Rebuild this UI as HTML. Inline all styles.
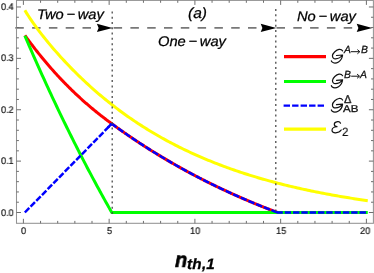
<!DOCTYPE html>
<html><head><meta charset="utf-8"><title>chart</title><style>
html,body{margin:0;padding:0;background:#fff;}
body{width:374px;height:273px;position:relative;overflow:hidden;font-family:"Liberation Sans",sans-serif;}
.t{position:absolute;white-space:nowrap;line-height:1;color:#000;text-rendering:geometricPrecision;will-change:transform;}
.tk{font-size:9.7px;color:#111;-webkit-text-stroke:0.2px #111;transform:scaleX(0.94);transform-origin:0 0;}
.it{font-style:italic;font-size:14px;-webkit-text-stroke:0.25px #000;transform:scaleX(1.05);transform-origin:0 0;word-spacing:-1.3px;}
</style></head><body>
<svg width="374" height="273" viewBox="0 0 374 273" style="position:absolute;left:0;top:0">
<rect width="374" height="273" fill="#fff"/>
<g stroke="#787878" stroke-width="1.9" fill="none" stroke-dasharray="8.5 8.3">
<line x1="15.3" y1="27.9" x2="112.2" y2="27.9"/>
<line x1="113.6" y1="27.9" x2="276.0" y2="27.9"/>
<line x1="276.5" y1="27.9" x2="373.4" y2="27.9"/>
</g>
<g fill="none" stroke-linejoin="round" stroke-linecap="butt">
<path d="M24.86,10.32 L26.57,13.10 L28.29,15.78 L30.00,18.38 L31.72,20.90 L33.43,23.35 L35.15,25.74 L36.86,28.08 L38.57,30.38 L40.29,32.63 L42.00,34.84 L43.72,37.01 L45.43,39.15 L47.15,41.26 L48.86,43.34 L50.58,45.39 L52.29,47.41 L54.01,49.41 L55.72,51.38 L57.43,53.33 L59.15,55.25 L60.86,57.15 L62.58,59.03 L64.29,60.88 L66.01,62.72 L67.72,64.53 L69.44,66.32 L71.15,68.09 L72.87,69.83 L74.58,71.56 L76.29,73.27 L78.01,74.96 L79.72,76.63 L81.44,78.28 L83.15,79.91 L84.87,81.53 L86.58,83.12 L88.30,84.70 L90.01,86.26 L91.73,87.80 L93.44,89.32 L95.16,90.83 L96.87,92.32 L98.58,93.79 L100.30,95.25 L102.01,96.69 L103.73,98.11 L105.44,99.52 L107.16,100.91 L108.87,102.28 L110.59,103.64 L112.30,104.99 L114.02,106.31 L115.73,107.63 L117.44,108.93 L119.16,110.21 L120.87,111.48 L122.59,112.74 L124.30,113.98 L126.02,115.20 L127.73,116.42 L129.45,117.61 L131.16,118.80 L132.88,119.97 L134.59,121.13 L136.30,122.28 L138.02,123.41 L139.73,124.53 L141.45,125.63 L143.16,126.73 L144.88,127.81 L146.59,128.88 L148.31,129.94 L150.02,130.98 L151.74,132.02 L153.45,133.04 L155.17,134.05 L156.88,135.05 L158.59,136.04 L160.31,137.01 L162.02,137.98 L163.74,138.93 L165.45,139.88 L167.17,140.81 L168.88,141.73 L170.60,142.64 L172.31,143.54 L174.03,144.43 L175.74,145.32 L177.45,146.19 L179.17,147.05 L180.88,147.90 L182.60,148.74 L184.31,149.57 L186.03,150.40 L187.74,151.21 L189.46,152.01 L191.17,152.81 L192.89,153.59 L194.60,154.37 L196.31,155.14 L198.03,155.90 L199.74,156.65 L201.46,157.39 L203.17,158.13 L204.89,158.85 L206.60,159.57 L208.32,160.28 L210.03,160.98 L211.75,161.67 L213.46,162.36 L215.18,163.04 L216.89,163.71 L218.60,164.37 L220.32,165.02 L222.03,165.67 L223.75,166.31 L225.46,166.94 L227.18,167.57 L228.89,168.19 L230.61,168.80 L232.32,169.40 L234.04,170.00 L235.75,170.59 L237.46,171.18 L239.18,171.75 L240.89,172.33 L242.61,172.89 L244.32,173.45 L246.04,174.00 L247.75,174.55 L249.47,175.09 L251.18,175.62 L252.90,176.15 L254.61,176.67 L256.32,177.18 L258.04,177.69 L259.75,178.20 L261.47,178.69 L263.18,179.19 L264.90,179.67 L266.61,180.15 L268.33,180.63 L270.04,181.10 L271.76,181.56 L273.47,182.02 L275.19,182.48 L276.90,182.93 L278.61,183.37 L280.33,183.81 L282.04,184.25 L283.76,184.68 L285.47,185.10 L287.19,185.52 L288.90,185.93 L290.62,186.34 L292.33,186.75 L294.05,187.15 L295.76,187.55 L297.47,187.94 L299.19,188.33 L300.90,188.71 L302.62,189.09 L304.33,189.46 L306.05,189.83 L307.76,190.20 L309.48,190.56 L311.19,190.92 L312.91,191.27 L314.62,191.62 L316.33,191.97 L318.05,192.31 L319.76,192.65 L321.48,192.98 L323.19,193.31 L324.91,193.64 L326.62,193.96 L328.34,194.28 L330.05,194.59 L331.77,194.91 L333.48,195.21 L335.20,195.52 L336.91,195.82 L338.62,196.12 L340.34,196.41 L342.05,196.70 L343.77,196.99 L345.48,197.28 L347.20,197.56 L348.91,197.84 L350.63,198.11 L352.34,198.38 L354.06,198.65 L355.77,198.92 L357.48,199.18 L359.20,199.44 L360.91,199.70 L362.63,199.95 L364.34,200.20 L366.06,200.45 L367.77,200.70" stroke="#ffff00" stroke-width="3.0"/>
<path d="M24.86,35.34 L25.70,36.50 L26.54,37.66 L27.38,38.81 L28.23,39.95 L29.07,41.08 L29.91,42.21 L30.75,43.33 L31.59,44.44 L32.44,45.54 L33.28,46.64 L34.12,47.73 L34.96,48.82 L35.80,49.90 L36.65,50.97 L37.49,52.03 L38.33,53.09 L39.17,54.14 L40.01,55.18 L40.86,56.22 L41.70,57.25 L42.54,58.28 L43.38,59.30 L44.23,60.31 L45.07,61.31 L45.91,62.31 L46.75,63.30 L47.59,64.29 L48.44,65.27 L49.28,66.24 L50.12,67.21 L50.96,68.17 L51.80,69.13 L52.65,70.08 L53.49,71.02 L54.33,71.96 L55.17,72.89 L56.01,73.81 L56.86,74.73 L57.70,75.65 L58.54,76.55 L59.38,77.46 L60.22,78.35 L61.07,79.24 L61.91,80.13 L62.75,81.01 L63.59,81.88 L64.43,82.75 L65.28,83.61 L66.12,84.47 L66.96,85.32 L67.80,86.17 L68.65,87.01 L69.49,87.85 L70.33,88.68 L71.17,89.50 L72.01,90.32 L72.86,91.14 L73.70,91.95 L74.54,92.75 L75.38,93.55 L76.22,94.35 L77.07,95.14 L77.91,95.92 L78.75,96.70 L79.59,97.47 L80.43,98.24 L81.28,99.01 L82.12,99.77 L82.96,100.52 L83.80,101.27 L84.64,102.02 L85.49,102.76 L86.33,103.50 L87.17,104.23 L88.01,104.96 L88.85,105.68 L89.70,106.40 L90.54,107.11 L91.38,107.82 L92.22,108.52 L93.07,109.22 L93.91,109.92 L94.75,110.61 L95.59,111.29 L96.43,111.98 L97.28,112.65 L98.12,113.33 L98.96,114.00 L99.80,114.66 L100.64,115.32 L101.49,115.98 L102.33,116.63 L103.17,117.28 L104.01,117.92 L104.85,118.56 L105.70,119.20 L106.54,119.83 L107.38,120.46 L108.22,121.09 L109.06,121.71 L109.91,122.32 L110.75,122.93 L111.59,123.54 L112.43,124.21 L113.27,124.83 L114.12,125.44 L114.96,126.05 L115.80,126.66 L116.64,127.26 L117.48,127.87 L118.33,128.47 L119.17,129.07 L120.01,129.67 L120.85,130.27 L121.70,130.86 L122.54,131.45 L123.38,132.04 L124.22,132.63 L125.06,133.22 L125.91,133.80 L126.75,134.39 L127.59,134.97 L128.43,135.54 L129.27,136.12 L130.12,136.70 L130.96,137.27 L131.80,137.84 L132.64,138.41 L133.48,138.97 L134.33,139.54 L135.17,140.10 L136.01,140.66 L136.85,141.22 L137.69,141.78 L138.54,142.34 L139.38,142.89 L140.22,143.44 L141.06,143.99 L141.90,144.54 L142.75,145.09 L143.59,145.63 L144.43,146.17 L145.27,146.71 L146.12,147.25 L146.96,147.79 L147.80,148.33 L148.64,148.86 L149.48,149.39 L150.33,149.92 L151.17,150.45 L152.01,150.98 L152.85,151.50 L153.69,152.02 L154.54,152.54 L155.38,153.06 L156.22,153.58 L157.06,154.10 L157.90,154.61 L158.75,155.12 L159.59,155.63 L160.43,156.14 L161.27,156.65 L162.11,157.16 L162.96,157.66 L163.80,158.16 L164.64,158.66 L165.48,159.16 L166.32,159.66 L167.17,160.15 L168.01,160.65 L168.85,161.14 L169.69,161.63 L170.53,162.12 L171.38,162.60 L172.22,163.09 L173.06,163.57 L173.90,164.06 L174.75,164.54 L175.59,165.02 L176.43,165.49 L177.27,165.97 L178.11,166.44 L178.96,166.91 L179.80,167.39 L180.64,167.85 L181.48,168.32 L182.32,168.79 L183.17,169.25 L184.01,169.72 L184.85,170.18 L185.69,170.64 L186.53,171.10 L187.38,171.55 L188.22,172.01 L189.06,172.46 L189.90,172.91 L190.74,173.36 L191.59,173.81 L192.43,174.26 L193.27,174.71 L194.11,175.15 L194.95,175.59 L195.80,176.04 L196.64,176.48 L197.48,176.91 L198.32,177.35 L199.17,177.79 L200.01,178.22 L200.85,178.65 L201.69,179.09 L202.53,179.52 L203.38,179.94 L204.22,180.37 L205.06,180.80 L205.90,181.22 L206.74,181.64 L207.59,182.06 L208.43,182.48 L209.27,182.90 L210.11,183.32 L210.95,183.73 L211.80,184.15 L212.64,184.56 L213.48,184.97 L214.32,185.38 L215.16,185.79 L216.01,186.20 L216.85,186.60 L217.69,187.01 L218.53,187.41 L219.37,187.81 L220.22,188.21 L221.06,188.61 L221.90,189.01 L222.74,189.41 L223.59,189.80 L224.43,190.20 L225.27,190.59 L226.11,190.98 L226.95,191.37 L227.80,191.76 L228.64,192.15 L229.48,192.53 L230.32,192.92 L231.16,193.30 L232.01,193.68 L232.85,194.06 L233.69,194.44 L234.53,194.82 L235.37,195.20 L236.22,195.57 L237.06,195.94 L237.90,196.32 L238.74,196.69 L239.58,197.06 L240.43,197.43 L241.27,197.80 L242.11,198.16 L242.95,198.53 L243.79,198.89 L244.64,199.26 L245.48,199.62 L246.32,199.98 L247.16,200.34 L248.00,200.70 L248.85,201.05 L249.69,201.41 L250.53,201.76 L251.37,202.12 L252.22,202.47 L253.06,202.82 L253.90,203.17 L254.74,203.52 L255.58,203.87 L256.43,204.21 L257.27,204.56 L258.11,204.90 L258.95,205.24 L259.79,205.59 L260.64,205.93 L261.48,206.27 L262.32,206.60 L263.16,206.94 L264.00,207.28 L264.85,207.61 L265.69,207.95 L266.53,208.28 L267.37,208.61 L268.21,208.94 L269.06,209.27 L269.90,209.60 L270.74,209.92 L271.58,210.25 L272.42,210.57 L273.27,210.90 L274.11,211.22 L274.95,211.54 L275.79,211.86 L276.64,212.18 L277.48,212.50" stroke="#ff0000" stroke-width="3.0"/>
<path d="M24.86,35.78 L26.31,39.16 L27.75,42.52 L29.20,45.87 L30.65,49.19 L32.10,52.51 L33.55,55.80 L35.00,59.09 L36.45,62.35 L37.90,65.60 L39.34,68.84 L40.79,72.06 L42.24,75.26 L43.69,78.45 L45.14,81.63 L46.59,84.79 L48.04,87.93 L49.48,91.06 L50.93,94.18 L52.38,97.28 L53.83,100.36 L55.28,103.43 L56.73,106.49 L58.18,109.53 L59.62,112.56 L61.07,115.57 L62.52,118.57 L63.97,121.55 L65.42,124.52 L66.87,127.48 L68.32,130.42 L69.76,133.35 L71.21,136.27 L72.66,139.17 L74.11,142.05 L75.56,144.93 L77.01,147.79 L78.46,150.63 L79.90,153.47 L81.35,156.29 L82.80,159.09 L84.25,161.88 L85.70,164.66 L87.15,167.43 L88.60,170.18 L90.04,172.92 L91.49,175.65 L92.94,178.37 L94.39,181.07 L95.84,183.76 L97.29,186.43 L98.74,189.09 L100.19,191.74 L101.63,194.38 L103.08,197.01 L104.53,199.62 L105.98,202.22 L107.43,204.81 L108.88,207.39 L110.33,209.95 L111.77,212.50 L367.77,212.50" stroke="#00ff00" stroke-width="3.0"/>
<path d="M24.86,212.50 L111.77,123.73" stroke="#0000ff" stroke-width="2.5" stroke-dasharray="6.3 1.85"/>
<path d="M107.86,127.73 L111.77,123.73" stroke="#0000ff" stroke-width="2.5"/>
<path d="M111.77,123.73 L112.60,124.33 L113.43,124.94 L114.26,125.54 L115.09,126.14 L115.92,126.74 L116.75,127.34 L117.57,127.93 L118.40,128.52 L119.23,129.12 L120.06,129.70 L120.89,130.29 L121.72,130.88 L122.54,131.46 L123.37,132.04 L124.20,132.62 L125.03,133.20 L125.86,133.77 L126.69,134.34 L127.52,134.91 L128.34,135.48 L129.17,136.05 L130.00,136.62 L130.83,137.18 L131.66,137.74 L132.49,138.30 L133.32,138.86 L134.14,139.42 L134.97,139.97 L135.80,140.53 L136.63,141.08 L137.46,141.62 L138.29,142.17 L139.11,142.72 L139.94,143.26 L140.77,143.80 L141.60,144.34 L142.43,144.88 L143.26,145.42 L144.09,145.95 L144.91,146.48 L145.74,147.02 L146.57,147.55 L147.40,148.07 L148.23,148.60 L149.06,149.12 L149.89,149.64 L150.71,150.17 L151.54,150.68 L152.37,151.20 L153.20,151.72 L154.03,152.23 L154.86,152.74 L155.69,153.25 L156.51,153.76 L157.34,154.27 L158.17,154.77 L159.00,155.28 L159.83,155.78 L160.66,156.28 L161.48,156.78 L162.31,157.27 L163.14,157.77 L163.97,158.26 L164.80,158.76 L165.63,159.25 L166.46,159.73 L167.28,160.22 L168.11,160.71 L168.94,161.19 L169.77,161.67 L170.60,162.15 L171.43,162.63 L172.26,163.11 L173.08,163.59 L173.91,164.06 L174.74,164.53 L175.57,165.01 L176.40,165.47 L177.23,165.94 L178.06,166.41 L178.88,166.87 L179.71,167.34 L180.54,167.80 L181.37,168.26 L182.20,168.72 L183.03,169.18 L183.85,169.63 L184.68,170.09 L185.51,170.54 L186.34,170.99 L187.17,171.44 L188.00,171.89 L188.83,172.33 L189.65,172.78 L190.48,173.22 L191.31,173.67 L192.14,174.11 L192.97,174.55 L193.80,174.98 L194.63,175.42 L195.45,175.86 L196.28,176.29 L197.11,176.72 L197.94,177.15 L198.77,177.58 L199.60,178.01 L200.43,178.44 L201.25,178.86 L202.08,179.29 L202.91,179.71 L203.74,180.13 L204.57,180.55 L205.40,180.97 L206.22,181.38 L207.05,181.80 L207.88,182.21 L208.71,182.62 L209.54,183.04 L210.37,183.45 L211.20,183.85 L212.02,184.26 L212.85,184.67 L213.68,185.07 L214.51,185.47 L215.34,185.88 L216.17,186.28 L217.00,186.68 L217.82,187.07 L218.65,187.47 L219.48,187.86 L220.31,188.26 L221.14,188.65 L221.97,189.04 L222.80,189.43 L223.62,189.82 L224.45,190.21 L225.28,190.59 L226.11,190.98 L226.94,191.36 L227.77,191.74 L228.59,192.13 L229.42,192.51 L230.25,192.88 L231.08,193.26 L231.91,193.64 L232.74,194.01 L233.57,194.38 L234.39,194.76 L235.22,195.13 L236.05,195.50 L236.88,195.87 L237.71,196.23 L238.54,196.60 L239.37,196.96 L240.19,197.33 L241.02,197.69 L241.85,198.05 L242.68,198.41 L243.51,198.77 L244.34,199.13 L245.17,199.48 L245.99,199.84 L246.82,200.19 L247.65,200.55 L248.48,200.90 L249.31,201.25 L250.14,201.60 L250.96,201.95 L251.79,202.29 L252.62,202.64 L253.45,202.98 L254.28,203.33 L255.11,203.67 L255.94,204.01 L256.76,204.35 L257.59,204.69 L258.42,205.03 L259.25,205.37 L260.08,205.70 L260.91,206.04 L261.74,206.37 L262.56,206.70 L263.39,207.03 L264.22,207.36 L265.05,207.69 L265.88,208.02 L266.71,208.35 L267.54,208.67 L268.36,209.00 L269.19,209.32 L270.02,209.64 L270.85,209.97 L271.68,210.29 L272.51,210.61 L273.33,210.92 L274.16,211.24 L274.99,211.56 L275.82,211.87 L276.65,212.19 L277.48,212.50" stroke="#0000ff" stroke-width="2.5" stroke-dasharray="6.45 1.86" stroke-dashoffset="0.6"/>
<path d="M276.98,212.50 L367.77,212.50" stroke="#0000ff" stroke-width="2.5" stroke-dasharray="6.45 1.86" stroke-dashoffset="0.6"/>
</g>
<line x1="112.2" y1="214.10" x2="112.2" y2="11.4" stroke="#444" stroke-width="1.25" stroke-dasharray="2.0 3.28"/>
<line x1="275.8" y1="211.55" x2="275.8" y2="8.9" stroke="#444" stroke-width="1.25" stroke-dasharray="2.0 3.28"/>
<path d="M112.5,27.9 L96.9,23.7 L98.6,27.9 L96.9,32.1 Z" fill="#000"/>
<path d="M276.3,27.9 L260.7,23.7 L262.4,27.9 L260.7,32.1 Z" fill="#000"/>
<path d="M372.3,27.9 L356.7,23.7 L358.4,27.9 L356.7,32.1 Z" fill="#000"/>
<rect x="16.5" y="0.4" width="356.9" height="222.9" fill="none" stroke="#939393" stroke-width="1.05"/>
<path d="M23.40,223.3 v-4.5 M23.40,0.4 v4.5 M40.55,223.3 v-2.4 M40.55,0.4 v2.4 M57.70,223.3 v-2.4 M57.70,0.4 v2.4 M74.85,223.3 v-2.4 M74.85,0.4 v2.4 M92.00,223.3 v-2.4 M92.00,0.4 v2.4 M109.15,223.3 v-4.5 M109.15,0.4 v4.5 M126.30,223.3 v-2.4 M126.30,0.4 v2.4 M143.45,223.3 v-2.4 M143.45,0.4 v2.4 M160.60,223.3 v-2.4 M160.60,0.4 v2.4 M177.75,223.3 v-2.4 M177.75,0.4 v2.4 M194.90,223.3 v-4.5 M194.90,0.4 v4.5 M212.05,223.3 v-2.4 M212.05,0.4 v2.4 M229.20,223.3 v-2.4 M229.20,0.4 v2.4 M246.35,223.3 v-2.4 M246.35,0.4 v2.4 M263.50,223.3 v-2.4 M263.50,0.4 v2.4 M280.65,223.3 v-4.5 M280.65,0.4 v4.5 M297.80,223.3 v-2.4 M297.80,0.4 v2.4 M314.95,223.3 v-2.4 M314.95,0.4 v2.4 M332.10,223.3 v-2.4 M332.10,0.4 v2.4 M349.25,223.3 v-2.4 M349.25,0.4 v2.4 M366.40,223.3 v-4.5 M366.40,0.4 v4.5 M16.5,212.50 h4.5 M373.4,212.50 h-4.5 M16.5,202.22 h2.4 M373.4,202.22 h-2.4 M16.5,191.95 h2.4 M373.4,191.95 h-2.4 M16.5,181.67 h2.4 M373.4,181.67 h-2.4 M16.5,171.40 h2.4 M373.4,171.40 h-2.4 M16.5,161.12 h4.5 M373.4,161.12 h-4.5 M16.5,150.84 h2.4 M373.4,150.84 h-2.4 M16.5,140.57 h2.4 M373.4,140.57 h-2.4 M16.5,130.29 h2.4 M373.4,130.29 h-2.4 M16.5,120.02 h2.4 M373.4,120.02 h-2.4 M16.5,109.74 h4.5 M373.4,109.74 h-4.5 M16.5,99.46 h2.4 M373.4,99.46 h-2.4 M16.5,89.19 h2.4 M373.4,89.19 h-2.4 M16.5,78.91 h2.4 M373.4,78.91 h-2.4 M16.5,68.64 h2.4 M373.4,68.64 h-2.4 M16.5,58.36 h4.5 M373.4,58.36 h-4.5 M16.5,48.08 h2.4 M373.4,48.08 h-2.4 M16.5,37.81 h2.4 M373.4,37.81 h-2.4 M16.5,27.53 h2.4 M373.4,27.53 h-2.4 M16.5,17.26 h2.4 M373.4,17.26 h-2.4 M16.5,6.98 h4.5 M373.4,6.98 h-4.5" stroke="#666" stroke-width="0.95" fill="none"/>
<line x1="284" x2="326" y1="56.6" y2="56.6" stroke="#ff0000" stroke-width="3.1"/>
<line x1="284" x2="326" y1="81.45" y2="81.45" stroke="#00ff00" stroke-width="3.1"/>
<line x1="283.6" x2="324.5" y1="105.7" y2="105.7" stroke="#0000ff" stroke-width="2.2" stroke-dasharray="6.4 2.1"/>
<line x1="284" x2="326" y1="129.15" y2="129.15" stroke="#ffff00" stroke-width="3.1"/>
<path transform="translate(331,49.0)" d="M11.6,1.9 C10.8,0.6 9.4,0.2 8.0,0.4 C5.4,0.8 1.6,4.0 1.45,6.8 C1.4,8.8 2.7,9.9 4.5,9.85 C7.0,9.8 9.8,8.3 11.6,6.0 L5.5,6.5 M11.6,6.0 C11.3,8.8 10.0,11.4 7.55,12.9 C5.5,14.1 2.5,14.2 0.96,12.9 C0.5,12.5 0.3,12.1 0.34,11.75" fill="none" stroke="#111" stroke-width="1.2" stroke-linecap="round" stroke-linejoin="round"/>
<path transform="translate(331,73.8)" d="M11.6,1.9 C10.8,0.6 9.4,0.2 8.0,0.4 C5.4,0.8 1.6,4.0 1.45,6.8 C1.4,8.8 2.7,9.9 4.5,9.85 C7.0,9.8 9.8,8.3 11.6,6.0 L5.5,6.5 M11.6,6.0 C11.3,8.8 10.0,11.4 7.55,12.9 C5.5,14.1 2.5,14.2 0.96,12.9 C0.5,12.5 0.3,12.1 0.34,11.75" fill="none" stroke="#111" stroke-width="1.2" stroke-linecap="round" stroke-linejoin="round"/>
<path transform="translate(331,98.1)" d="M11.6,1.9 C10.8,0.6 9.4,0.2 8.0,0.4 C5.4,0.8 1.6,4.0 1.45,6.8 C1.4,8.8 2.7,9.9 4.5,9.85 C7.0,9.8 9.8,8.3 11.6,6.0 L5.5,6.5 M11.6,6.0 C11.3,8.8 10.0,11.4 7.55,12.9 C5.5,14.1 2.5,14.2 0.96,12.9 C0.5,12.5 0.3,12.1 0.34,11.75" fill="none" stroke="#111" stroke-width="1.2" stroke-linecap="round" stroke-linejoin="round"/>
<path transform="translate(328,116)" d="M12.5,7.2 C12.0,5.9 10.8,5.4 9.6,5.6 C7.8,5.9 6.3,7.0 6.3,8.2 C6.3,9.5 7.5,10.4 9.0,10.6 C6.5,10.7 4.0,12.2 4.0,14.2 C4.0,16.0 5.6,16.9 7.6,16.8 C10.0,16.7 12.2,15.6 13.2,14.0" fill="none" stroke="#111" stroke-width="1.2" stroke-linecap="round" stroke-linejoin="round"/>
<path d="M350.9,51.7 L359.5,51.7 M357.4,49.6 L359.8,51.7 L357.4,53.8" fill="none" stroke="#111" stroke-width="1.0" stroke-linejoin="miter"/>
<path d="M351.2,76.2 L359.2,76.2 M357.1,74.1 L359.5,76.2 L357.1,78.3" fill="none" stroke="#111" stroke-width="1.0" stroke-linejoin="miter"/>
</svg>
<div class="t tk" style="left:0.9px;top:208.8px;">0.0</div>
<div class="t tk" style="left:0.9px;top:157.4px;">0.1</div>
<div class="t tk" style="left:0.9px;top:106.0px;">0.2</div>
<div class="t tk" style="left:0.9px;top:54.0px;">0.3</div>
<div class="t tk" style="left:0.9px;top:2.5px;">0.4</div>
<div class="t tk" style="left:20.8px;top:226.6px;">0</div>
<div class="t tk" style="left:106.6px;top:226.6px;">5</div>
<div class="t tk" style="left:190.0px;top:226.6px;">10</div>
<div class="t tk" style="left:275.8px;top:226.6px;">15</div>
<div class="t tk" style="left:360.2px;top:226.6px;">20</div>
<div class="t it" style="left:37.0px;top:6.5px;">Two &minus; way</div>
<div class="t it" style="left:157.7px;top:34.2px;">One &minus; way</div>
<div class="t it" style="left:188.2px;top:6.8px;font-size:14.8px;">(a)</div>
<div class="t it" style="left:296.5px;top:9.2px;">No &minus; way</div>
<div class="t " style="left:174.5px;top:249.8px;font-weight:bold;font-style:italic;transform-origin:0 0;font-size:21.5px;transform:scaleX(0.93);-webkit-text-stroke:0.6px #000;">n</div>
<div class="t " style="left:187.3px;top:256.9px;font-weight:bold;font-style:italic;transform-origin:0 0;font-size:15px;transform:scaleX(1.015);-webkit-text-stroke:0.3px #000;letter-spacing:0.25px;">th,1</div>
<div class="t " style="left:343.9px;top:46.2px;font-style:italic;font-size:10.4px;color:#111;-webkit-text-stroke:0.25px #111;">A</div>
<div class="t " style="left:360.5px;top:46.2px;font-style:italic;font-size:10.4px;color:#111;-webkit-text-stroke:0.25px #111;">B</div>
<div class="t " style="left:343.9px;top:70.9px;font-style:italic;font-size:10.4px;color:#111;-webkit-text-stroke:0.25px #111;">B</div>
<div class="t " style="left:360.2px;top:70.9px;font-style:italic;font-size:10.4px;color:#111;-webkit-text-stroke:0.25px #111;">A</div>
<div class="t " style="left:344.2px;top:95.3px;transform-origin:0 0;color:#111;-webkit-text-stroke:0.3px #111;font-size:11.3px;transform:scaleX(0.97);">&Delta;</div>
<div class="t " style="left:343.2px;top:104.8px;transform-origin:0 0;color:#111;-webkit-text-stroke:0.3px #111;font-size:10px;transform:scaleX(1.15);">AB</div>
<div class="t " style="left:341.8px;top:125.5px;transform-origin:0 0;color:#111;-webkit-text-stroke:0.3px #111;font-size:12px;transform:scaleX(0.95);-webkit-text-stroke:0.2px #111;">2</div>
</body></html>
